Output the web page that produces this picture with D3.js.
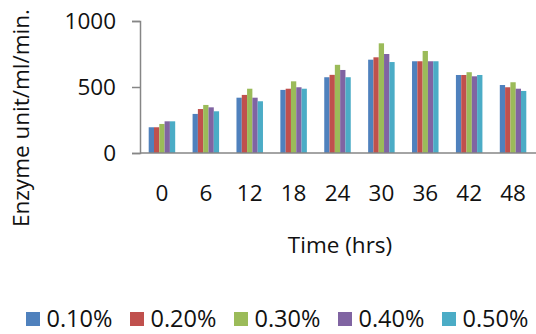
<!DOCTYPE html>
<html><head><meta charset="utf-8">
<script src="https://cdn.jsdelivr.net/npm/d3@7"></script>
<style>body{margin:0;background:#fff}svg text{font-family:"Open Sans",sans-serif;fill:#111}</style>
</head><body><svg id="c" width="536" height="334"></svg>
<script>
const categories = ["0","6","12","18","24","30","36","42","48"];
const seriesNames = ["0.10%","0.20%","0.30%","0.40%","0.50%"];
const s010 = [195,296,419,478,574,707,695,591,515];
const s020 = [195,333,440,487,592,725,695,591,498];
const s030 = [220,364,487,543,668,831,773,612,536];
const s040 = [240,346,419,498,629,750,695,581,487];
const s050 = [240,316,392,487,574,689,695,591,470];
const yTicks = [0,500,1000];
const colors = ["#4F81BD","#C0504D","#9BBB59","#8064A2","#4BACC6"];
const series = [s010,s020,s030,s040,s050];

(function(){
const svg = d3.select("#c");
const mL = 140, mR = 535, mT = 21, mB = 153;
const fs = "22.5px";
const x = d3.scaleBand().domain(categories).range([mL, mR]).paddingInner(0).paddingOuter(0);
const y = d3.scaleLinear().domain([0,1000]).range([mB, mT]);
const groupW = 26.5;
const xs = d3.scaleBand().domain(seriesNames).range([0, groupW]);

series.forEach((vals, si) => {
  svg.append("g").selectAll("rect").data(vals).join("rect")
    .attr("x", (d,i) => x(categories[i]) + x.bandwidth()/2 - groupW/2 + xs(seriesNames[si]))
    .attr("y", d => y(d))
    .attr("width", xs.bandwidth())
    .attr("height", d => mB - y(d))
    .attr("fill", colors[si]);
});

const ya = svg.append("g").attr("transform", `translate(${mL},0)`)
  .call(d3.axisLeft(y).tickValues(yTicks).tickSize(8).tickPadding(16).tickFormat(d3.format("d")));
ya.select(".domain").attr("stroke","#868686").attr("stroke-width",1.5);
ya.selectAll(".tick line").attr("stroke","#868686").attr("stroke-width",1.5);
ya.selectAll(".tick text").style("font-size",fs).attr("fill","#111");

svg.append("line").attr("x1",mL).attr("x2",536).attr("y1",mB).attr("y2",mB)
  .attr("stroke","#868686").attr("stroke-width",1.5);

svg.append("g").selectAll("text").data(categories).join("text")
  .attr("x", d => x(d) + x.bandwidth()/2)
  .attr("y", 201)
  .attr("text-anchor","middle")
  .style("font-size",fs)
  .text(d => d);

svg.append("text").attr("x",340).attr("y",253).attr("text-anchor","middle")
  .style("font-size",fs).text("Time (hrs)");

svg.append("text").attr("transform","translate(29,118) rotate(-90)")
  .attr("text-anchor","middle").style("font-size",fs).text("Enzyme unit/ml/min.");

const lg = svg.append("g").selectAll("g").data(seriesNames).join("g")
  .attr("transform",(d,i)=>`translate(${26 + i*104},312)`);
lg.append("rect").attr("width",14).attr("height",14).attr("fill",(d,i)=>colors[i]);
lg.append("text").attr("x",20.5).attr("y",14.5).style("font-size","23.5px").text(d=>d);
})();
</script></body></html>
